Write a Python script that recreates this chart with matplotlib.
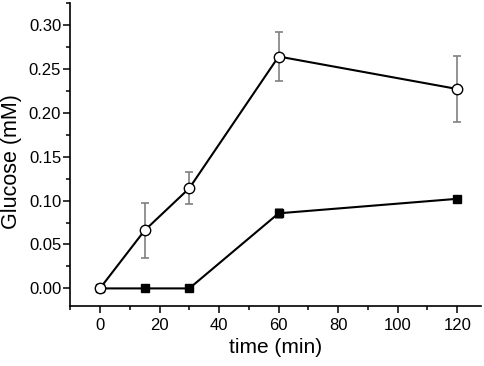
# glucose release over time

import matplotlib.pyplot as plt
from matplotlib.ticker import MultipleLocator

plt.rcParams['font.family'] = ['Liberation Sans', 'DejaVu Sans']

# data
time_open = [0, 15, 30, 60, 120]
glucose_open = [0.0, 0.066, 0.114, 0.264, 0.227]
err_open = [0.0, 0.031, 0.018, 0.028, 0.038]

time_filled = [0, 15, 30, 60, 120]
glucose_filled = [0.0, 0.0, 0.0, 0.0855, 0.102]
err_filled = [0.0, 0.0, 0.0, 0.005, 0.0]

fig = plt.figure(figsize=(4.84, 3.66), dpi=100)
ax = fig.add_axes([0.145, 0.164, 0.849, 0.828])

# filled squares (drawn first, open circles sit on top)
ax.errorbar(time_filled, glucose_filled, yerr=err_filled, fmt='none',
            ecolor='#808080', elinewidth=1.2, capsize=3, capthick=1.2, zorder=2)
ax.plot(time_filled, glucose_filled, color='black', lw=1.5, marker='s', ms=6,
        mfc='black', mec='black', zorder=3)

# open circles
ax.errorbar(time_open, glucose_open, yerr=err_open, fmt='none',
            ecolor='#808080', elinewidth=1.2, capsize=3, capthick=1.2, zorder=4)
ax.plot(time_open, glucose_open, color='black', lw=1.5, marker='o', ms=7.5,
        mfc='white', mec='black', mew=1.0, zorder=5)

ax.set_xlim(-10, 128)
ax.set_ylim(-0.02, 0.325)
ax.xaxis.set_major_locator(MultipleLocator(20))
ax.xaxis.set_minor_locator(MultipleLocator(10))
ax.yaxis.set_major_locator(MultipleLocator(0.05))
ax.yaxis.set_minor_locator(MultipleLocator(0.025))
ax.yaxis.set_major_formatter(plt.FormatStrFormatter('%.2f'))

ax.spines['top'].set_visible(False)
ax.spines['right'].set_visible(False)
ax.spines['left'].set_linewidth(1.2)
ax.spines['bottom'].set_linewidth(1.2)
ax.tick_params(which='major', direction='out', length=5, width=1.1, labelsize=12, pad=1.5)
ax.tick_params(which='minor', direction='out', length=3, width=1.1)
ax.tick_params(axis='x', which='major', pad=4)

ax.set_xlabel('time (min)', fontsize=15, labelpad=3)
ax.set_ylabel('Glucose (mM)', fontsize=15.5)
ax.yaxis.set_label_coords(-0.118, 0.477)

fig.savefig('out.png', dpi=100)
